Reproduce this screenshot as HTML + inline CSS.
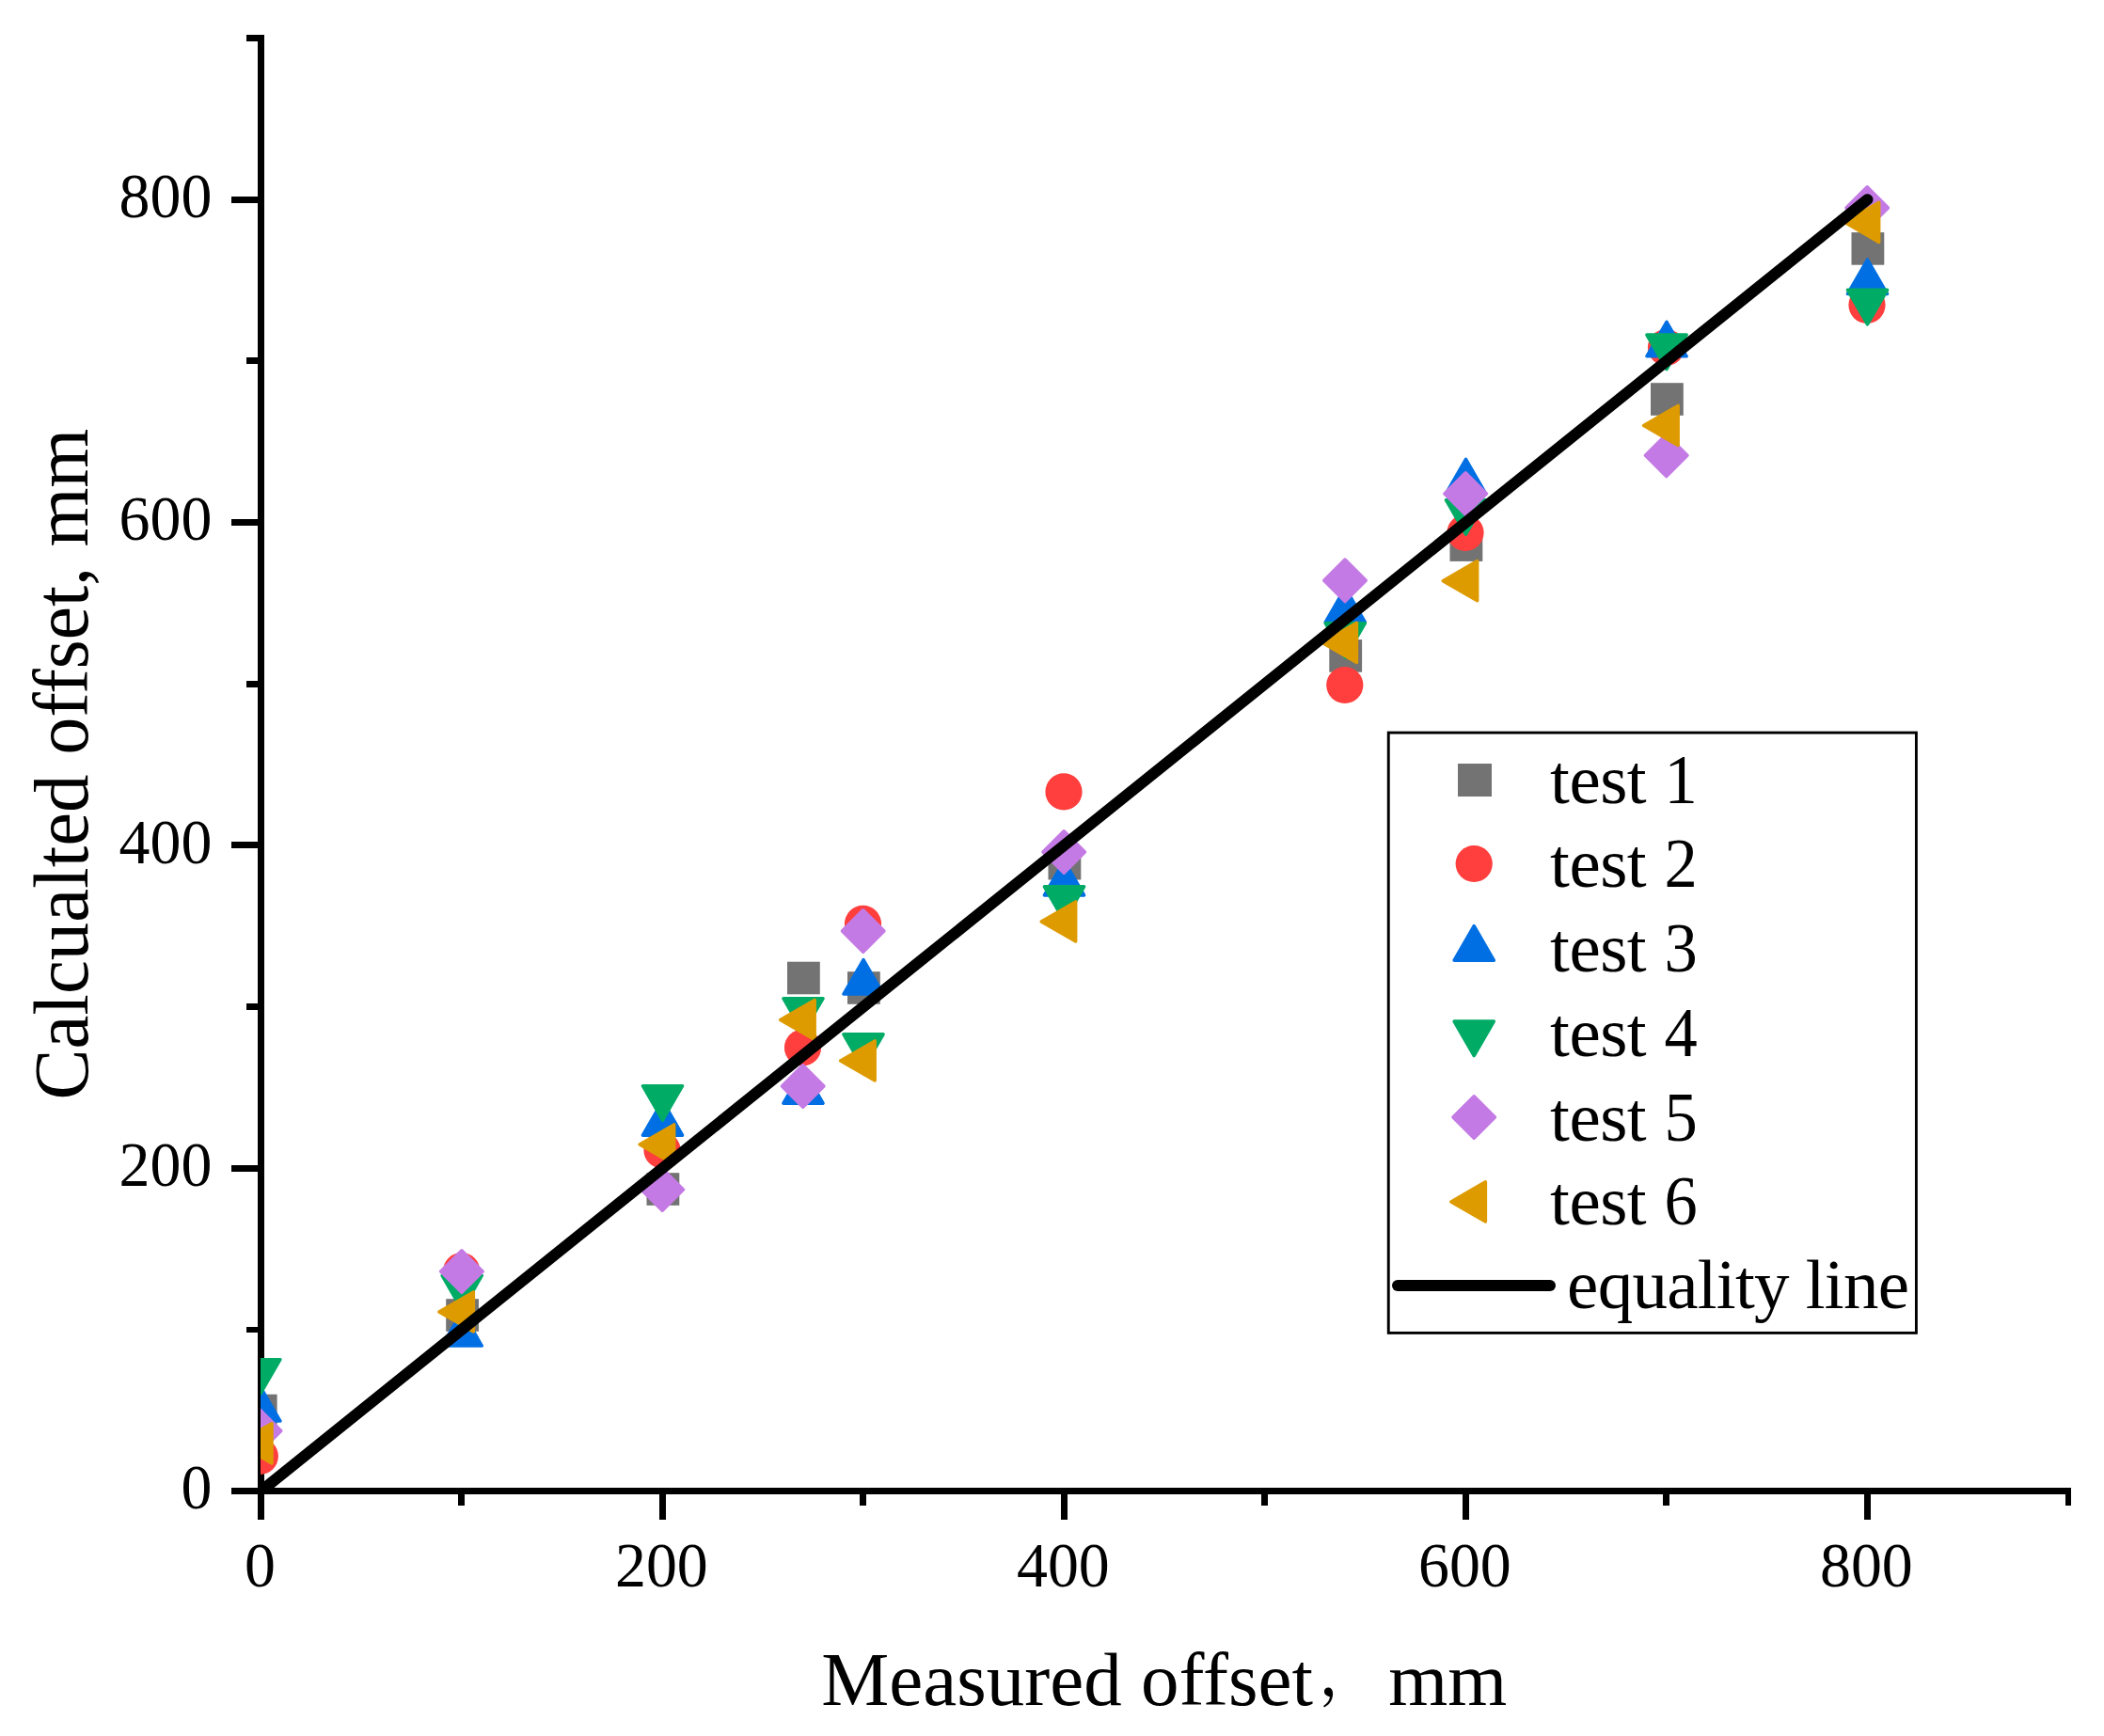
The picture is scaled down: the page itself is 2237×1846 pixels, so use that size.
<!DOCTYPE html>
<html lang="en"><head><meta charset="utf-8"><title>Calculated vs measured offset</title>
<style>
html,body{margin:0;padding:0;background:#fff;}
body{width:2237px;height:1846px;overflow:hidden;}
svg{display:block;}
text{font-family:"Liberation Serif","Noto Serif CJK SC",serif;fill:#000;}
.tk{font-size:68.5px;}
.lg{font-size:75px;}
.ti{font-size:81px;}
.ty{font-size:82.5px;}
.cj{font-family:"Liberation Serif","Noto Serif CJK SC",serif;}
</style></head><body>
<svg width="2237" height="1846" viewBox="0 0 2237 1846">
<rect width="2237" height="1846" fill="#fff"/>
<defs><clipPath id="plot"><rect x="277" y="37" width="1925" height="1552"/></clipPath></defs>
<g fill="#000" shape-rendering="crispEdges">
<rect x="274" y="37" width="7" height="1579"/>
<rect x="246" y="1582" width="1956" height="7"/>
<rect x="262" y="1411" width="14" height="6"/>
<rect x="246" y="1239" width="30" height="7"/>
<rect x="262" y="1067" width="14" height="7"/>
<rect x="246" y="895" width="30" height="7"/>
<rect x="262" y="724" width="14" height="7"/>
<rect x="246" y="552" width="30" height="7"/>
<rect x="262" y="380" width="14" height="7"/>
<rect x="246" y="209" width="30" height="7"/>
<rect x="262" y="37" width="14" height="7"/>
<rect x="487" y="1586" width="7" height="15"/>
<rect x="701" y="1586" width="7" height="30"/>
<rect x="914" y="1586" width="7" height="15"/>
<rect x="1128" y="1586" width="7" height="30"/>
<rect x="1341" y="1586" width="7" height="15"/>
<rect x="1555" y="1586" width="7" height="30"/>
<rect x="1768" y="1586" width="7" height="15"/>
<rect x="1982" y="1586" width="7" height="30"/>
<rect x="2196" y="1586" width="6" height="15"/>
</g>
<g class="tk" text-anchor="end">
<text transform="translate(225.4 1604.3) scale(0.962 1)">0</text>
<text transform="translate(225.4 1260.97) scale(0.962 1)">200</text>
<text transform="translate(225.4 917.63) scale(0.962 1)">400</text>
<text transform="translate(225.4 574.3) scale(0.962 1)">600</text>
<text transform="translate(225.4 230.97) scale(0.962 1)">800</text>
</g>
<g class="tk" text-anchor="middle">
<text transform="translate(276.4 1687.3) scale(0.962 1)">0</text>
<text transform="translate(703.4 1687.3) scale(0.962 1)">200</text>
<text transform="translate(1130.4 1687.3) scale(0.962 1)">400</text>
<text transform="translate(1557.4 1687.3) scale(0.962 1)">600</text>
<text transform="translate(1984.4 1687.3) scale(0.962 1)">800</text>
</g>
<g class="ty" transform="translate(93 1166.1) rotate(-90)">
<text x="-3.3" y="0" textLength="345.9" lengthAdjust="spacingAndGlyphs">Calcualted</text>
<text x="363.6" y="0" textLength="199.6" lengthAdjust="spacingAndGlyphs">offset,</text>
<text x="584.5" y="0" textLength="125.8" lengthAdjust="spacingAndGlyphs">mm</text>
</g>
<text class="ti" x="873.3" y="1812.7">Measured offset</text>
<text class="cj" style="font-size:66px" x="1401.9" y="1802.1">，</text>
<text class="ti" x="1476.3" y="1812.7">mm</text>
<g clip-path="url(#plot)">
<g fill="#737373">
<rect x="259.8" y="1482.7" width="34.8" height="34.6"/>
<rect x="474.2" y="1381.2" width="34.8" height="34.6"/>
<rect x="687.5" y="1247.2" width="34.8" height="34.6"/>
<rect x="837" y="1022.7" width="34.8" height="34.6"/>
<rect x="901" y="1033.2" width="34.8" height="34.6"/>
<rect x="1114.5" y="900.9" width="34.8" height="34.6"/>
<rect x="1413.3" y="680.1" width="34.8" height="34.6"/>
<rect x="1541.5" y="562.3" width="34.8" height="34.6"/>
<rect x="1755" y="407.2" width="34.8" height="34.6"/>
<rect x="1968.5" y="247.1" width="34.8" height="34.6"/>
</g>
<g fill="#FF3E3E">
<circle cx="276.3" cy="1548.5" r="19.6"/>
<circle cx="490.7" cy="1351.5" r="19.6"/>
<circle cx="704" cy="1223" r="19.6"/>
<circle cx="853.5" cy="1114" r="19.6"/>
<circle cx="917.5" cy="982.4" r="19.6"/>
<circle cx="1131" cy="841.9" r="19.6"/>
<circle cx="1429.8" cy="728.5" r="19.6"/>
<circle cx="1558" cy="566.5" r="19.6"/>
<circle cx="1771.5" cy="369.5" r="19.6"/>
<circle cx="1985" cy="324.3" r="19.6"/>
</g>
<g fill="#006FE3" stroke="#006FE3" stroke-width="3.5" stroke-linejoin="round">
<path d="M276.8 1474.56L297.88 1511.07L255.72 1511.07Z"/>
<path d="M491.2 1394.56L512.28 1431.07L470.12 1431.07Z"/>
<path d="M704.5 1170.66L725.58 1207.17L683.42 1207.17Z"/>
<path d="M854 1136.66L875.08 1173.17L832.92 1173.17Z"/>
<path d="M918 1020.56L939.08 1057.07L896.92 1057.07Z"/>
<path d="M1131.5 915.46L1152.58 951.97L1110.42 951.97Z"/>
<path d="M1430.3 625.06L1451.38 661.57L1409.22 661.57Z"/>
<path d="M1558.5 488.36L1579.58 524.87L1537.42 524.87Z"/>
<path d="M1772 342.36L1793.08 378.87L1750.92 378.87Z"/>
<path d="M1985.5 276.06L2006.58 312.57L1964.42 312.57Z"/>
</g>
<g fill="#00AB66" stroke="#00AB66" stroke-width="3.5" stroke-linejoin="round">
<path d="M276.8 1482.24L297.88 1445.73L255.72 1445.73Z"/>
<path d="M491.2 1392.94L512.28 1356.43L470.12 1356.43Z"/>
<path d="M704.5 1191.24L725.58 1154.73L683.42 1154.73Z"/>
<path d="M854 1098.24L875.08 1061.73L832.92 1061.73Z"/>
<path d="M918 1136.34L939.08 1099.83L896.92 1099.83Z"/>
<path d="M1131.5 979.34L1152.58 942.83L1110.42 942.83Z"/>
<path d="M1430.3 699.24L1451.38 662.73L1409.22 662.73Z"/>
<path d="M1558.5 568.24L1579.58 531.73L1537.42 531.73Z"/>
<path d="M1772 392.54L1793.08 356.03L1750.92 356.03Z"/>
<path d="M1985.5 344.84L2006.58 308.33L1964.42 308.33Z"/>
</g>
<g fill="#C47AE4" stroke="#C47AE4" stroke-width="3.5" stroke-linejoin="round">
<path d="M276.5 1499.35L298.75 1521.6L276.5 1543.85L254.25 1521.6Z"/>
<path d="M490.9 1329.85L513.15 1352.1L490.9 1374.35L468.65 1352.1Z"/>
<path d="M704.2 1242.75L726.45 1265L704.2 1287.25L681.95 1265Z"/>
<path d="M853.7 1132.75L875.95 1155L853.7 1177.25L831.45 1155Z"/>
<path d="M917.7 967.75L939.95 990L917.7 1012.25L895.45 990Z"/>
<path d="M1131.2 883.75L1153.45 906L1131.2 928.25L1108.95 906Z"/>
<path d="M1430 595.05L1452.25 617.3L1430 639.55L1407.75 617.3Z"/>
<path d="M1558.2 502.75L1580.45 525L1558.2 547.25L1535.95 525Z"/>
<path d="M1771.7 462.05L1793.95 484.3L1771.7 506.55L1749.45 484.3Z"/>
<path d="M1985.2 198.75L2007.45 221L1985.2 243.25L1962.95 221Z"/>
</g>
<g fill="#DE9B00" stroke="#DE9B00" stroke-width="3.5" stroke-linejoin="round">
<path d="M252.46 1534.8L288.97 1513.72L288.97 1555.88Z"/>
<path d="M466.86 1395L503.37 1373.92L503.37 1416.08Z"/>
<path d="M680.16 1217L716.67 1195.92L716.67 1238.08Z"/>
<path d="M829.66 1084.5L866.17 1063.42L866.17 1105.58Z"/>
<path d="M893.66 1128L930.17 1106.92L930.17 1149.08Z"/>
<path d="M1107.16 980L1143.67 958.92L1143.67 1001.08Z"/>
<path d="M1405.96 683.4L1442.47 662.32L1442.47 704.48Z"/>
<path d="M1534.16 617.7L1570.67 596.62L1570.67 638.78Z"/>
<path d="M1747.66 452.5L1784.17 431.42L1784.17 473.58Z"/>
<path d="M1961.16 236.3L1997.67 215.22L1997.67 257.38Z"/>
</g>
<line x1="277.5" y1="1585.5" x2="1985.5" y2="212.17" stroke="#000" stroke-width="12" stroke-linecap="round"/>
</g>
<rect x="1476.25" y="779.1" width="561.15" height="638.3" fill="#fff" stroke="#000" stroke-width="2.9"/>
<g fill="#737373"><rect x="1550" y="812" width="36" height="35"/></g>
<text class="lg" x="1648.1" y="853.9" textLength="102.5" lengthAdjust="spacing">test</text>
<text class="lg" transform="translate(1769.5 853.9) scale(0.94 1)">1</text>
<g fill="#FF3E3E"><circle cx="1567.2" cy="918.5" r="19.6"/></g>
<text class="lg" x="1648.1" y="942.8" textLength="102.5" lengthAdjust="spacing">test</text>
<text class="lg" transform="translate(1769.5 942.8) scale(0.94 1)">2</text>
<g fill="#006FE3" stroke="#006FE3" stroke-width="3.5" stroke-linejoin="round"><path d="M1567.2 984.66L1588.28 1021.17L1546.12 1021.17Z"/></g>
<text class="lg" x="1648.1" y="1033" textLength="102.5" lengthAdjust="spacing">test</text>
<text class="lg" transform="translate(1769.5 1033) scale(0.94 1)">3</text>
<g fill="#00AB66" stroke="#00AB66" stroke-width="3.5" stroke-linejoin="round"><path d="M1567.2 1122.54L1588.28 1086.03L1546.12 1086.03Z"/></g>
<text class="lg" x="1648.1" y="1122.8" textLength="102.5" lengthAdjust="spacing">test</text>
<text class="lg" transform="translate(1769.5 1122.8) scale(0.94 1)">4</text>
<g fill="#C47AE4" stroke="#C47AE4" stroke-width="3.5" stroke-linejoin="round"><path d="M1567.2 1165.75L1589.45 1188L1567.2 1210.25L1544.95 1188Z"/></g>
<text class="lg" x="1648.1" y="1212.6" textLength="102.5" lengthAdjust="spacing">test</text>
<text class="lg" transform="translate(1769.5 1212.6) scale(0.94 1)">5</text>
<g fill="#DE9B00" stroke="#DE9B00" stroke-width="3.5" stroke-linejoin="round"><path d="M1542.86 1277.9L1579.37 1256.82L1579.37 1298.98Z"/></g>
<text class="lg" x="1648.1" y="1301.8" textLength="102.5" lengthAdjust="spacing">test</text>
<text class="lg" transform="translate(1769.5 1301.8) scale(0.94 1)">6</text>
<line x1="1486" y1="1367" x2="1648" y2="1367" stroke="#000" stroke-width="12" stroke-linecap="round"/>
<text class="lg" x="1666.1" y="1390.8" textLength="363.9" lengthAdjust="spacing">equality line</text>
</svg>
</body></html>
